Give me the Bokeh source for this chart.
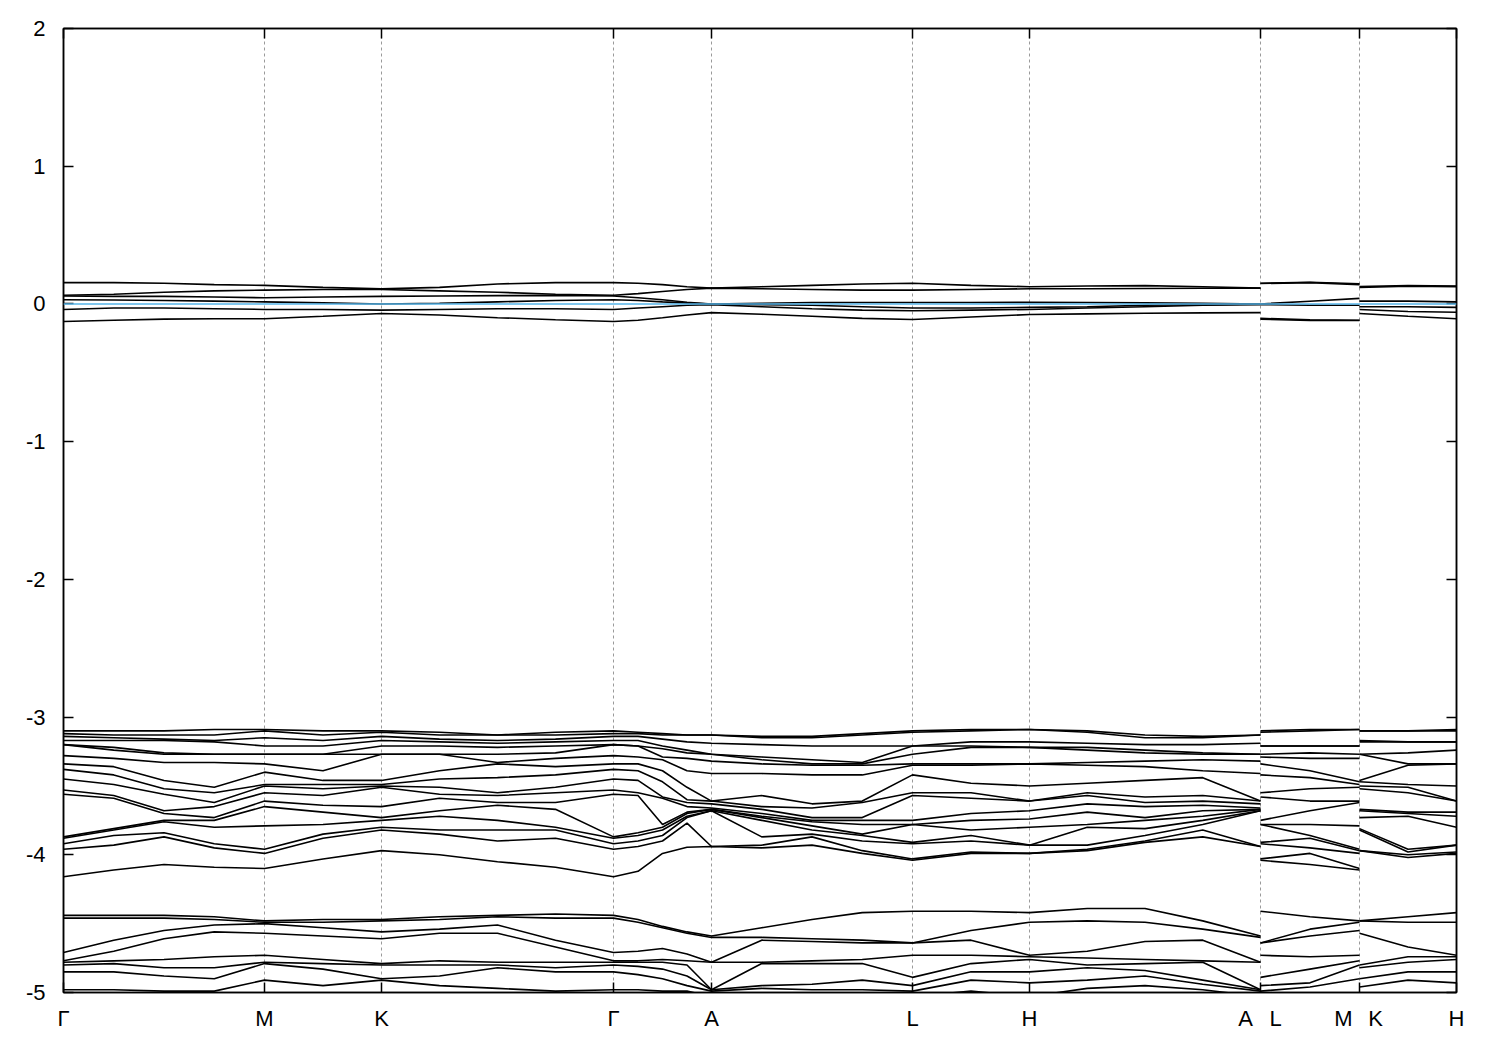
import numpy as np
from bokeh.plotting import figure
from bokeh.models import Range1d, LinearAxis, FixedTicker, Grid, Span, CustomJSTickFormatter
from bokeh.embed import file_html
from bokeh.resources import INLINE

# ---------------- k-path ----------------
node_k = [0.0, 0.201, 0.318, 0.550, 0.648, 0.849, 0.966, 1.197, 1.296, 1.393]
label_k = [0.0, 0.201, 0.318, 0.550, 0.648, 0.849, 0.966, 1.182, 1.212, 1.280, 1.312, 1.393]
label_text = ["Γ", "M", "K", "Γ", "A", "L", "H", "A", "L", "M", "K", "H"]
y_ticks = [-5, -4, -3, -2, -1, 0, 1, 2]
fermi_level = 0.0

# sample k positions: Γ-M-K-Γ-A-L-H-A (continuous), then L-M, then K-H
k_main = [0.0, 0.05025, 0.1005, 0.15075, 0.201, 0.2595, 0.318, 0.376, 0.434, 0.492, 0.550,
          0.5745, 0.599, 0.6235, 0.648, 0.69825, 0.7485, 0.79875, 0.849, 0.9075, 0.966,
          1.02375, 1.0815, 1.13925, 1.197]
k_lm = [1.197, 1.2465, 1.296]
k_kh = [1.296, 1.3445, 1.393]

# ---------------- bands near E_F (energies per k-sample, eV) ----------------
near_G = [0.155, 0.063, 0.058, 0.03, -0.04, -0.128]
near_A = [0.115, 0.115, 0.0, 0.0, -0.005, -0.063]
near_bands = [
    near_G,
    [0.155, 0.07, 0.055, 0.028, -0.03, -0.118],
    [0.15, 0.085, 0.055, 0.025, -0.03, -0.11],
    [0.14, 0.095, 0.05, 0.02, -0.035, -0.108],
    [0.135, 0.10, 0.045, 0.015, -0.04, -0.108],
    [0.12, 0.105, 0.05, 0.008, -0.04, -0.09],
    [0.109, 0.105, 0.055, 0.0, -0.045, -0.07],
    [0.12, 0.095, 0.058, 0.005, -0.04, -0.08],
    [0.145, 0.085, 0.06, 0.015, -0.035, -0.10],
    [0.155, 0.07, 0.062, 0.025, -0.035, -0.115],
    near_G,
    [0.15, 0.075, 0.045, 0.025, -0.03, -0.118],
    [0.14, 0.09, 0.03, 0.015, -0.02, -0.10],
    [0.125, 0.105, 0.012, 0.006, -0.01, -0.08],
    near_A,
    [0.125, 0.11, 0.005, -0.005, -0.02, -0.075],
    [0.135, 0.105, 0.01, -0.01, -0.035, -0.09],
    [0.145, 0.10, 0.01, -0.02, -0.045, -0.105],
    [0.15, 0.10, 0.01, -0.03, -0.05, -0.113],
    [0.135, 0.105, 0.01, -0.03, -0.045, -0.095],
    [0.125, 0.11, 0.012, -0.025, -0.04, -0.077],
    [0.13, 0.11, 0.01, -0.02, -0.03, -0.072],
    [0.133, 0.112, 0.008, -0.01, -0.02, -0.068],
    [0.125, 0.114, 0.005, -0.005, -0.01, -0.065],
    near_A,
    [0.15, 0.148, 0.0, -0.005, -0.105, -0.11],
    [0.157, 0.155, 0.02, -0.01, -0.115, -0.12],
    [0.146, 0.14, 0.04, -0.01, -0.118, -0.12],
    [0.126, 0.12, 0.02, -0.02, -0.04, -0.07],
    [0.134, 0.128, 0.02, -0.02, -0.055, -0.09],
    [0.13, 0.126, 0.015, -0.025, -0.06, -0.108],
]

# ---------------- bands -3 ... -4.2 eV ----------------
mid_G = [-3.10, -3.12, -3.14, -3.17, -3.20, -3.20, -3.28, -3.34, -3.38, -3.45, -3.53, -3.56, -3.87, -3.88, -3.92, -3.96, -4.16]
mid_A = [-3.13, -3.13, -3.19, -3.27, -3.27, -3.32, -3.41, -3.61, -3.61, -3.63, -3.66, -3.67, -3.67, -3.68, -3.68, -3.94, -3.94]
mid_bands = [
    mid_G,
    [-3.10, -3.13, -3.15, -3.17, -3.22, -3.24, -3.30, -3.36, -3.42, -3.49, -3.57, -3.59, -3.81, -3.82, -3.86, -3.93, -4.11],
    [-3.10, -3.13, -3.16, -3.17, -3.26, -3.27, -3.33, -3.46, -3.52, -3.56, -3.68, -3.70, -3.75, -3.76, -3.84, -3.87, -4.07],
    [-3.09, -3.13, -3.17, -3.18, -3.27, -3.27, -3.33, -3.51, -3.55, -3.62, -3.65, -3.73, -3.75, -3.80, -3.92, -3.95, -4.09],
    [-3.09, -3.10, -3.15, -3.21, -3.27, -3.27, -3.34, -3.40, -3.49, -3.50, -3.55, -3.61, -3.65, -3.79, -3.96, -3.99, -4.10],
    [-3.10, -3.13, -3.17, -3.21, -3.27, -3.27, -3.39, -3.46, -3.49, -3.52, -3.57, -3.64, -3.69, -3.78, -3.85, -3.88, -4.03],
    [-3.10, -3.11, -3.14, -3.17, -3.21, -3.27, -3.27, -3.46, -3.49, -3.50, -3.51, -3.65, -3.73, -3.75, -3.80, -3.82, -3.97],
    [-3.11, -3.13, -3.16, -3.18, -3.21, -3.27, -3.27, -3.39, -3.45, -3.51, -3.56, -3.59, -3.68, -3.72, -3.82, -3.85, -4.00],
    [-3.13, -3.13, -3.17, -3.19, -3.22, -3.27, -3.33, -3.34, -3.44, -3.55, -3.57, -3.62, -3.64, -3.75, -3.82, -3.90, -4.05],
    [-3.11, -3.13, -3.16, -3.18, -3.21, -3.26, -3.30, -3.36, -3.42, -3.51, -3.55, -3.62, -3.67, -3.80, -3.82, -3.88, -4.09],
    mid_G,
    [-3.11, -3.12, -3.14, -3.17, -3.21, -3.21, -3.29, -3.34, -3.39, -3.46, -3.55, -3.57, -3.84, -3.86, -3.90, -3.94, -4.12],
    [-3.12, -3.13, -3.16, -3.21, -3.23, -3.29, -3.31, -3.39, -3.47, -3.58, -3.59, -3.78, -3.80, -3.82, -3.86, -3.90, -3.99],
    [-3.13, -3.13, -3.18, -3.24, -3.26, -3.30, -3.39, -3.51, -3.60, -3.62, -3.65, -3.69, -3.70, -3.72, -3.73, -3.77, -3.945],
    mid_A,
    [-3.14, -3.15, -3.20, -3.29, -3.31, -3.34, -3.41, -3.57, -3.65, -3.67, -3.70, -3.72, -3.73, -3.75, -3.87, -3.93, -3.95],
    [-3.14, -3.15, -3.21, -3.31, -3.34, -3.35, -3.42, -3.63, -3.66, -3.73, -3.75, -3.76, -3.79, -3.82, -3.85, -3.87, -3.93],
    [-3.12, -3.13, -3.21, -3.33, -3.34, -3.35, -3.42, -3.61, -3.62, -3.73, -3.75, -3.78, -3.85, -3.86, -3.90, -3.97, -3.99],
    [-3.10, -3.11, -3.21, -3.21, -3.27, -3.34, -3.35, -3.42, -3.55, -3.57, -3.75, -3.78, -3.78, -3.91, -3.92, -4.03, -4.04],
    [-3.09, -3.10, -3.18, -3.21, -3.22, -3.34, -3.35, -3.48, -3.55, -3.59, -3.70, -3.75, -3.82, -3.86, -3.90, -3.98, -3.99],
    [-3.09, -3.09, -3.18, -3.22, -3.22, -3.34, -3.34, -3.50, -3.61, -3.61, -3.68, -3.74, -3.80, -3.93, -3.93, -3.99, -3.99],
    [-3.10, -3.11, -3.19, -3.22, -3.24, -3.33, -3.35, -3.48, -3.55, -3.57, -3.63, -3.69, -3.78, -3.80, -3.93, -3.96, -3.97],
    [-3.13, -3.15, -3.20, -3.24, -3.26, -3.32, -3.36, -3.46, -3.58, -3.62, -3.65, -3.73, -3.75, -3.81, -3.86, -3.90, -3.91],
    [-3.14, -3.15, -3.20, -3.26, -3.27, -3.31, -3.39, -3.44, -3.57, -3.61, -3.64, -3.68, -3.72, -3.75, -3.78, -3.82, -3.87],
    mid_A,
    [-3.10, -3.11, -3.21, -3.21, -3.27, -3.29, -3.34, -3.42, -3.55, -3.58, -3.75, -3.78, -3.78, -3.91, -3.92, -4.03, -4.04],
    [-3.09, -3.10, -3.21, -3.21, -3.26, -3.30, -3.39, -3.44, -3.52, -3.61, -3.68, -3.78, -3.86, -3.88, -3.95, -3.99, -4.07],
    [-3.09, -3.09, -3.21, -3.21, -3.27, -3.30, -3.47, -3.49, -3.51, -3.61, -3.62, -3.79, -3.96, -3.97, -3.99, -4.10, -4.11],
    [-3.10, -3.10, -3.17, -3.18, -3.27, -3.27, -3.46, -3.47, -3.50, -3.52, -3.67, -3.68, -3.73, -3.81, -3.82, -3.97, -3.97],
    [-3.10, -3.10, -3.18, -3.18, -3.26, -3.34, -3.35, -3.49, -3.51, -3.55, -3.69, -3.70, -3.72, -3.96, -3.98, -4.00, -4.02],
    [-3.09, -3.10, -3.18, -3.18, -3.24, -3.34, -3.34, -3.50, -3.61, -3.61, -3.69, -3.72, -3.80, -3.93, -3.93, -3.98, -3.99],
]

# ---------------- bands -4.4 ... -5 eV ----------------
low_G = [-4.44, -4.46, -4.71, -4.77, -4.78, -4.80, -4.85, -4.98]
low_A = [-4.59, -4.60, -4.78, -4.78, -4.98, -4.98, -4.99, -5.03]
low_L = [-4.41, -4.64, -4.64, -4.73, -4.89, -4.95, -4.99, -5.03]
low_bands = [
    low_G,
    [-4.44, -4.46, -4.62, -4.70, -4.77, -4.79, -4.85, -4.98],
    [-4.44, -4.46, -4.55, -4.61, -4.76, -4.82, -4.88, -4.99],
    [-4.45, -4.47, -4.51, -4.56, -4.74, -4.82, -4.90, -4.99],
    [-4.48, -4.49, -4.50, -4.57, -4.73, -4.78, -4.79, -4.91],
    [-4.47, -4.49, -4.53, -4.59, -4.76, -4.79, -4.83, -4.95],
    [-4.47, -4.48, -4.56, -4.61, -4.79, -4.80, -4.90, -4.91],
    [-4.45, -4.47, -4.54, -4.57, -4.77, -4.80, -4.88, -4.95],
    [-4.44, -4.45, -4.51, -4.57, -4.78, -4.80, -4.82, -4.97],
    [-4.43, -4.46, -4.62, -4.67, -4.78, -4.82, -4.85, -4.99],
    low_G,
    [-4.47, -4.49, -4.70, -4.77, -4.78, -4.81, -4.87, -4.98],
    [-4.52, -4.53, -4.68, -4.76, -4.78, -4.83, -4.90, -4.99],
    [-4.56, -4.57, -4.72, -4.77, -4.80, -4.88, -4.95, -4.99],
    low_A,
    [-4.53, -4.60, -4.62, -4.78, -4.79, -4.95, -4.97, -5.03],
    [-4.47, -4.61, -4.63, -4.77, -4.79, -4.94, -4.98, -5.03],
    [-4.42, -4.62, -4.64, -4.76, -4.79, -4.91, -4.98, -5.03],
    low_L,
    [-4.41, -4.55, -4.62, -4.73, -4.79, -4.85, -4.91, -4.99],
    [-4.42, -4.49, -4.73, -4.74, -4.76, -4.85, -4.93, -5.03],
    [-4.39, -4.48, -4.70, -4.75, -4.80, -4.82, -4.91, -4.97],
    [-4.39, -4.49, -4.63, -4.76, -4.79, -4.84, -4.88, -4.95],
    [-4.48, -4.54, -4.62, -4.77, -4.78, -4.91, -4.94, -4.98],
    low_A,
    low_L,
    [-4.45, -4.54, -4.59, -4.74, -4.83, -4.93, -4.96, -5.03],
    [-4.48, -4.49, -4.55, -4.73, -4.77, -4.80, -4.90, -5.03],
    [-4.48, -4.48, -4.57, -4.80, -4.82, -4.90, -4.96, -5.03],
    [-4.45, -4.49, -4.67, -4.74, -4.78, -4.85, -4.91, -5.03],
    [-4.42, -4.49, -4.73, -4.74, -4.76, -4.85, -4.93, -5.03],
]

# ---------------- build line pieces ----------------
xs, ys = [], []
n_main = len(k_main)
pieces = ((slice(0, n_main), k_main),
          (slice(n_main, n_main + len(k_lm)), k_lm),
          (slice(n_main + len(k_lm), n_main + len(k_lm) + len(k_kh)), k_kh))
for group in (near_bands, mid_bands, low_bands):
    arr = np.array(group, dtype=float)  # (n_k, n_bands)
    for b in range(arr.shape[1]):
        for sl, ks in pieces:
            xs.append(list(ks))
            ys.append(list(arr[sl, b]))

# ---------------- figure ----------------
FONT = "Liberation Sans"
p = figure(frame_width=1393, frame_height=964,
           x_range=Range1d(node_k[0], node_k[-1]), y_range=Range1d(-5, 2),
           x_axis_type=None, y_axis_type=None,
           output_backend="svg", toolbar_location=None,
           min_border_left=63, min_border_right=36, min_border_top=28, min_border_bottom=52)
p.outline_line_color = "black"
p.outline_line_width = 1.5
p.background_fill_color = "white"
p.border_fill_color = "white"

p.add_layout(Grid(dimension=0, ticker=FixedTicker(ticks=node_k),
                  grid_line_color="#9a9a9a", grid_line_dash="3 3", grid_line_width=1))

p.multi_line(xs, ys, line_color="black", line_width=1.6)
p.add_layout(Span(location=fermi_level, dimension="width", line_color="#56b4e9", line_width=1.6))


def style(ax, labels=True, size="22px"):
    ax.major_tick_in = 10
    ax.major_tick_out = 0
    ax.minor_tick_in = 0
    ax.minor_tick_out = 0
    ax.axis_line_color = "black"
    ax.axis_line_width = 1.5
    ax.major_tick_line_color = "black"
    ax.major_tick_line_width = 1.5
    ax.major_label_text_font = FONT
    if labels:
        ax.major_label_text_font_size = size
        ax.major_label_text_color = "black"
    else:
        ax.major_label_text_font_size = "1px"
        ax.major_label_text_color = None
        ax.major_label_standoff = 0


int_fmt = CustomJSTickFormatter(code="return tick.toFixed(0);")

left = LinearAxis(ticker=FixedTicker(ticks=y_ticks), formatter=int_fmt)
style(left)
left.major_label_standoff = 18
p.add_layout(left, "left")

right = LinearAxis(ticker=FixedTicker(ticks=y_ticks))
style(right, labels=False)
p.add_layout(right, "right")

top = LinearAxis(ticker=FixedTicker(ticks=node_k))
style(top, labels=False)
p.add_layout(top, "above")

bottom_ticks = LinearAxis(ticker=FixedTicker(ticks=node_k))
style(bottom_ticks, labels=False)
p.add_layout(bottom_ticks, "below")

bottom_labels = LinearAxis(ticker=FixedTicker(ticks=label_k),
                           formatter=CustomJSTickFormatter(args=dict(labels=label_text),
                                                           code="return labels[index];"))
style(bottom_labels, size="22px")
bottom_labels.major_tick_in = 0
bottom_labels.axis_line_color = None
bottom_labels.major_label_standoff = 13
p.add_layout(bottom_labels, "below")

open("out.html", "w").write(file_html(p, INLINE))
